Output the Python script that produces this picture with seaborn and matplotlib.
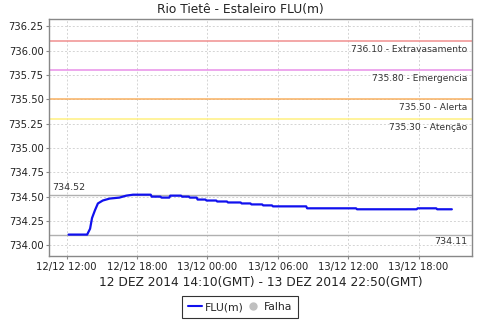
import matplotlib
matplotlib.use("Agg")
import matplotlib.pyplot as plt
import matplotlib.dates as mdates
from matplotlib.lines import Line2D
import seaborn as sns
import pandas as pd

# ---- data ----
times = ["2014-12-12 12:10", "2014-12-12 13:45", "2014-12-12 14:00", "2014-12-12 14:10",
         "2014-12-12 14:25", "2014-12-12 14:40", "2014-12-12 15:05", "2014-12-12 15:40",
         "2014-12-12 16:30", "2014-12-12 17:05", "2014-12-12 17:40", "2014-12-12 19:10",
         "2014-12-12 19:15", "2014-12-12 20:00", "2014-12-12 20:05", "2014-12-12 20:45",
         "2014-12-12 20:50", "2014-12-12 21:45", "2014-12-12 21:50", "2014-12-12 22:25",
         "2014-12-12 22:30", "2014-12-12 23:05", "2014-12-12 23:10", "2014-12-12 23:50",
         "2014-12-12 23:55", "2014-12-13 00:45", "2014-12-13 00:50", "2014-12-13 01:40",
         "2014-12-13 01:45", "2014-12-13 02:50", "2014-12-13 02:55", "2014-12-13 03:40",
         "2014-12-13 03:45", "2014-12-13 04:40", "2014-12-13 04:45", "2014-12-13 05:30",
         "2014-12-13 05:35", "2014-12-13 08:25", "2014-12-13 08:30", "2014-12-13 12:40",
         "2014-12-13 12:45", "2014-12-13 17:50", "2014-12-13 17:55", "2014-12-13 19:30",
         "2014-12-13 19:35", "2014-12-13 20:50"]
flu = [734.11, 734.11, 734.17, 734.28,
       734.36, 734.43, 734.46, 734.48,
       734.49, 734.51, 734.52, 734.52,
       734.50, 734.50, 734.49, 734.49,
       734.51, 734.51, 734.50, 734.50,
       734.49, 734.49, 734.47, 734.47,
       734.46, 734.46, 734.45, 734.45,
       734.44, 734.44, 734.43, 734.43,
       734.42, 734.42, 734.41, 734.41,
       734.40, 734.40, 734.38, 734.38,
       734.37, 734.37, 734.38, 734.38,
       734.37, 734.37]

level_values = [736.10, 735.80, 735.50, 735.30]
level_names = ["Extravasamento", "Emergencia", "Alerta", "Atenção"]
level_colors = ["#f09090", "#e890e8", "#f8b060", "#fff080"]

max_value = 734.52
min_value = 734.11

title = "Rio Tietê - Estaleiro FLU(m)"
xlabel = "12 DEZ 2014 14:10(GMT) - 13 DEZ 2014 22:50(GMT)"

df = pd.DataFrame({"time": pd.to_datetime(times), "FLU(m)": flu})

sns.set_theme(style="white")
plt.rcParams["font.family"] = ["DejaVu Sans"]

fig = plt.figure(figsize=(4.8, 3.2), dpi=100)
ax = fig.add_axes([0.1025, 0.2, 0.88, 0.7406])

# reference lines
for v, c in zip(level_values, level_colors):
    ax.axhline(v, color=c, lw=1.1, zorder=2)
for v, n in zip(level_values, level_names):
    ax.annotate(f"{v:.2f} - {n}", xy=(1, v), xycoords=("axes fraction", "data"),
                xytext=(-3, -3), textcoords="offset points", ha="right", va="top",
                fontsize=6.6, color="#333333")

ax.axhline(max_value, color="#b0b0b0", lw=1.0, zorder=2)
ax.axhline(min_value, color="#b0b0b0", lw=1.0, zorder=2)
ax.annotate(f"{max_value:.2f}", xy=(0, max_value), xycoords=("axes fraction", "data"),
            xytext=(2, 2), textcoords="offset points", ha="left", va="bottom",
            fontsize=6.8, color="#333333")
ax.annotate(f"{min_value:.2f}", xy=(1, min_value), xycoords=("axes fraction", "data"),
            xytext=(-3, -2), textcoords="offset points", ha="right", va="top",
            fontsize=6.8, color="#333333")

sns.lineplot(data=df, x="time", y="FLU(m)", ax=ax, color="#1010ee", lw=1.6, zorder=5)

ax.set_xlim(pd.Timestamp("2014-12-12 10:31"), pd.Timestamp("2014-12-13 22:31"))
ax.set_ylim(733.89, 736.325)
ax.set_yticks([734.00, 734.25, 734.50, 734.75, 735.00, 735.25, 735.50, 735.75, 736.00, 736.25])
ax.yaxis.set_major_formatter(matplotlib.ticker.FormatStrFormatter("%.2f"))
ax.xaxis.set_major_locator(mdates.HourLocator(byhour=[0, 6, 12, 18]))
ax.xaxis.set_major_formatter(mdates.DateFormatter("%d/%m %H:%M"))

ax.grid(True, color="#d4d4d4", ls=(0, (2, 2)), lw=0.7)
for s in ax.spines.values():
    s.set_color("#888888")
    s.set_linewidth(1.0)
ax.tick_params(axis="both", which="major", labelsize=7.2, length=2, width=0.8,
               color="#888888", pad=2, labelcolor="#222222", bottom=True, left=True)

ax.set_ylabel("")
ax.set_xlabel(xlabel, fontsize=8.8, labelpad=3, color="#222222")
fig.text(0.5, 0.97, title, ha="center", va="center", fontsize=8.8, color="#222222")

handles = [Line2D([], [], color="#1010ee", lw=1.5),
           Line2D([], [], ls="", marker="o", color="#c0c0c0", markersize=5)]
leg = fig.legend(handles, ["FLU(m)", "Falha"], loc="lower center", bbox_to_anchor=(0.5, 0.006),
                 ncol=2, fontsize=7.8, frameon=True, fancybox=False, edgecolor="black",
                 handlelength=1.3, handletextpad=0.3, columnspacing=0.2,
                 borderpad=0.55, borderaxespad=0.0)
leg.get_frame().set_linewidth(0.8)

fig.savefig("out.png", dpi=100)
